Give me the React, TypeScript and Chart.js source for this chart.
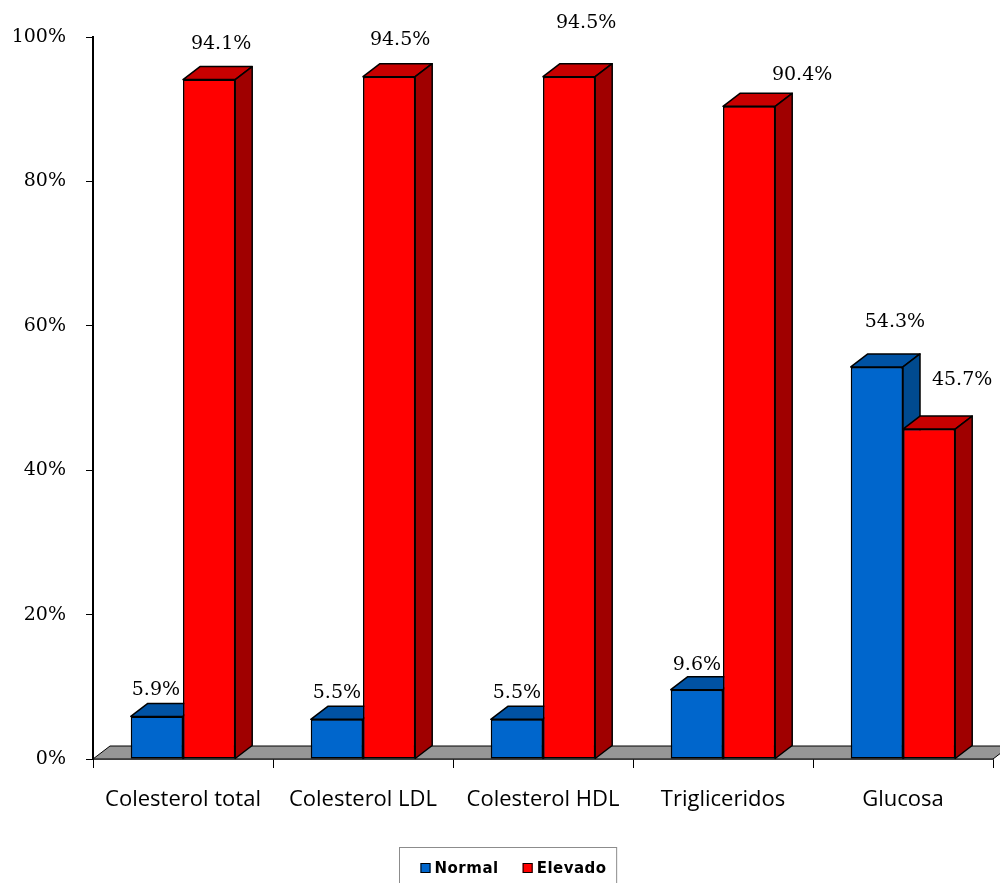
import { useEffect, useRef } from "react";
import { Chart, registerables } from "chart.js";

Chart.register(...registerables);

// ---- data ----
const categories = ["Colesterol total", "Colesterol LDL", "Colesterol HDL", "Trigliceridos", "Glucosa"];
const normalValues = [5.9, 5.5, 5.5, 9.6, 54.3];
const elevadoValues = [94.1, 94.5, 94.5, 90.4, 45.7];
const yTickValues = [0, 20, 40, 60, 80, 100];

// ---- styling ----
// label nudges [dx, dy] from the top-centre of each bar's front face
const normalLabelNudge = [[-1, -26], [0, -26], [0, -26], [0, -25], [18, -45]];
const elevadoLabelNudge = [[12, -36], [11, -37], [17, -54], [53, -31], [33, -49]];

const DEPTH_X = 17;
const DEPTH_Y = -13;

type Pt = [number, number];

function fillPoly(ctx: CanvasRenderingContext2D, pts: Pt[], color: string) {
  ctx.beginPath();
  ctx.moveTo(pts[0][0], pts[0][1]);
  for (let i = 1; i < pts.length; i++) ctx.lineTo(pts[i][0], pts[i][1]);
  ctx.closePath();
  ctx.fillStyle = color;
  ctx.fill();
  ctx.strokeStyle = "#000";
  ctx.lineWidth = 1.5;
  ctx.lineJoin = "round";
  ctx.stroke();
}

// Gray floor under the bars plus 3D top/side faces and value labels
const bar3dPlugin = {
  id: "bar3d",
  beforeDatasetsDraw(chart: any) {
    const { ctx, chartArea } = chart;
    const { left, right, bottom } = chartArea;
    ctx.save();
    ctx.beginPath();
    ctx.moveTo(left, bottom);
    ctx.lineTo(right, bottom);
    ctx.lineTo(right + DEPTH_X, bottom + DEPTH_Y);
    ctx.lineTo(left + DEPTH_X, bottom + DEPTH_Y);
    ctx.closePath();
    ctx.fillStyle = "#969696";
    ctx.fill();
    ctx.strokeStyle = "#000";
    ctx.lineWidth = 1;
    ctx.stroke();
    ctx.restore();
  },
  afterDatasetsDraw(chart: any) {
    const ctx: CanvasRenderingContext2D = chart.ctx;
    const n = chart.data.labels.length;
    const nudges = [normalLabelNudge, elevadoLabelNudge];
    ctx.save();
    for (let i = 0; i < n; i++) {
      chart.data.datasets.forEach((ds: any, d: number) => {
        const meta = chart.getDatasetMeta(d);
        const el = meta.data[i];
        if (!el) return;
        const { x, y, base, width } = el.getProps(["x", "y", "base", "width"], true);
        const l = x - width / 2;
        const r = x + width / 2;
        el.draw(ctx);
        fillPoly(ctx, [[l, y], [r, y], [r + DEPTH_X, y + DEPTH_Y], [l + DEPTH_X, y + DEPTH_Y]], ds.topColor);
        fillPoly(ctx, [[r, y], [r + DEPTH_X, y + DEPTH_Y], [r + DEPTH_X, base + DEPTH_Y], [r, base]], ds.sideColor);
        const v = ds.data[i] as number;
        const [nx, ny] = nudges[d][i];
        ctx.font = "19px 'DejaVu Serif'";
        ctx.fillStyle = "#000";
        ctx.textAlign = "center";
        ctx.textBaseline = "middle";
        ctx.fillText(v.toFixed(1) + "%", x + nx, y + ny);
      });
    }
    ctx.restore();
  },
};

// Boxed legend under the category labels
const boxLegendPlugin = {
  id: "boxLegend",
  afterDraw(chart: any) {
    const ctx: CanvasRenderingContext2D = chart.ctx;
    ctx.save();
    ctx.font = "bold 15px 'DejaVu Sans'";
    (ctx as any).letterSpacing = "0.5px";
    const items = chart.data.datasets.map((ds: any) => ({
      label: ds.label as string,
      color: ds.backgroundColor as string,
      w: ctx.measureText(ds.label).width,
    }));
    const sq = 10;
    const gapText = 4;
    const gapItem = 24;
    let content = 0;
    items.forEach((it: any, k: number) => {
      content += sq + gapText + it.w + (k < items.length - 1 ? gapItem : 0);
    });
    const padL = 21;
    const padR = 10;
    const boxW = content + padL + padR;
    const boxLeft = Math.round(chart.width / 2 + 8 - boxW / 2) + 0.5;
    const boxTop = 847.5;
    ctx.strokeStyle = "#8c8c8c";
    ctx.lineWidth = 1;
    ctx.strokeRect(boxLeft, boxTop, boxW, 60);
    let cx = boxLeft + padL;
    const cy = 868;
    items.forEach((it: any) => {
      ctx.fillStyle = it.color;
      ctx.fillRect(cx, cy - sq / 2, sq, sq);
      ctx.strokeStyle = "#000";
      ctx.strokeRect(cx + 0.5, cy - sq / 2 + 0.5, sq - 1, sq - 1);
      ctx.fillStyle = "#000";
      ctx.textAlign = "left";
      ctx.textBaseline = "middle";
      ctx.fillText(it.label, cx + sq + gapText, cy + 1);
      cx += sq + gapText + it.w + gapItem;
    });
    ctx.restore();
  },
};

export default function App() {
  const canvasRef = useRef<HTMLCanvasElement | null>(null);

  useEffect(() => {
    const canvas = canvasRef.current;
    if (!canvas) return;
    const chart = new Chart(canvas, {
      type: "bar",
      data: {
        labels: categories,
        datasets: [
          {
            label: "Normal",
            data: normalValues,
            backgroundColor: "#0066CC",
            topColor: "#0052A3",
            sideColor: "#004A8F",
            borderColor: "#000",
            borderWidth: 1.5,
            borderSkipped: false,
            categoryPercentage: 0.58,
            barPercentage: 1,
          } as any,
          {
            label: "Elevado",
            data: elevadoValues,
            backgroundColor: "#FF0000",
            topColor: "#C80000",
            sideColor: "#A00000",
            borderColor: "#000",
            borderWidth: 1.5,
            borderSkipped: false,
            categoryPercentage: 0.58,
            barPercentage: 1,
          } as any,
        ],
      },
      options: {
        responsive: false,
        animation: false,
        devicePixelRatio: 1,
        layout: { padding: { left: 0, right: 7, top: 37, bottom: 0 } },
        plugins: {
          legend: { display: false },
          tooltip: { enabled: false },
        },
        scales: {
          x: {
            offset: true,
            grid: {
              offset: true,
              drawOnChartArea: false,
              drawTicks: true,
              tickLength: 9,
              color: "#000",
              lineWidth: 1,
            },
            border: { display: true, color: "#000", width: 1.5 },
            ticks: {
              color: "#000",
              font: { family: "'Open Sans'", size: 22 },
              padding: 19,
              maxRotation: 0,
              autoSkip: false,
            },
            afterFit: (s: any) => {
              s.height = 124;
            },
          },
          y: {
            min: 0,
            max: 100,
            afterBuildTicks: (s: any) => {
              s.ticks = yTickValues.map((v) => ({ value: v }));
            },
            grid: {
              drawOnChartArea: false,
              drawTicks: true,
              tickLength: 7,
              color: "#000",
              lineWidth: 1,
            },
            border: { display: true, color: "#000", width: 2 },
            ticks: {
              color: "#000",
              font: { family: "'DejaVu Serif'", size: 19 },
              padding: 20,
              callback: (v: any) => v + "%",
            },
            afterFit: (s: any) => {
              s.width = 93;
            },
          },
        },
      },
      plugins: [bar3dPlugin, boxLegendPlugin],
    });
    return () => chart.destroy();
  }, []);

  return (
    <div style={{ position: "absolute", left: 0, top: 0, width: 1000, height: 883, background: "#fff" }}>
      <canvas ref={canvasRef} width={1000} height={883} style={{ display: "block" }} />
    </div>
  );
}
